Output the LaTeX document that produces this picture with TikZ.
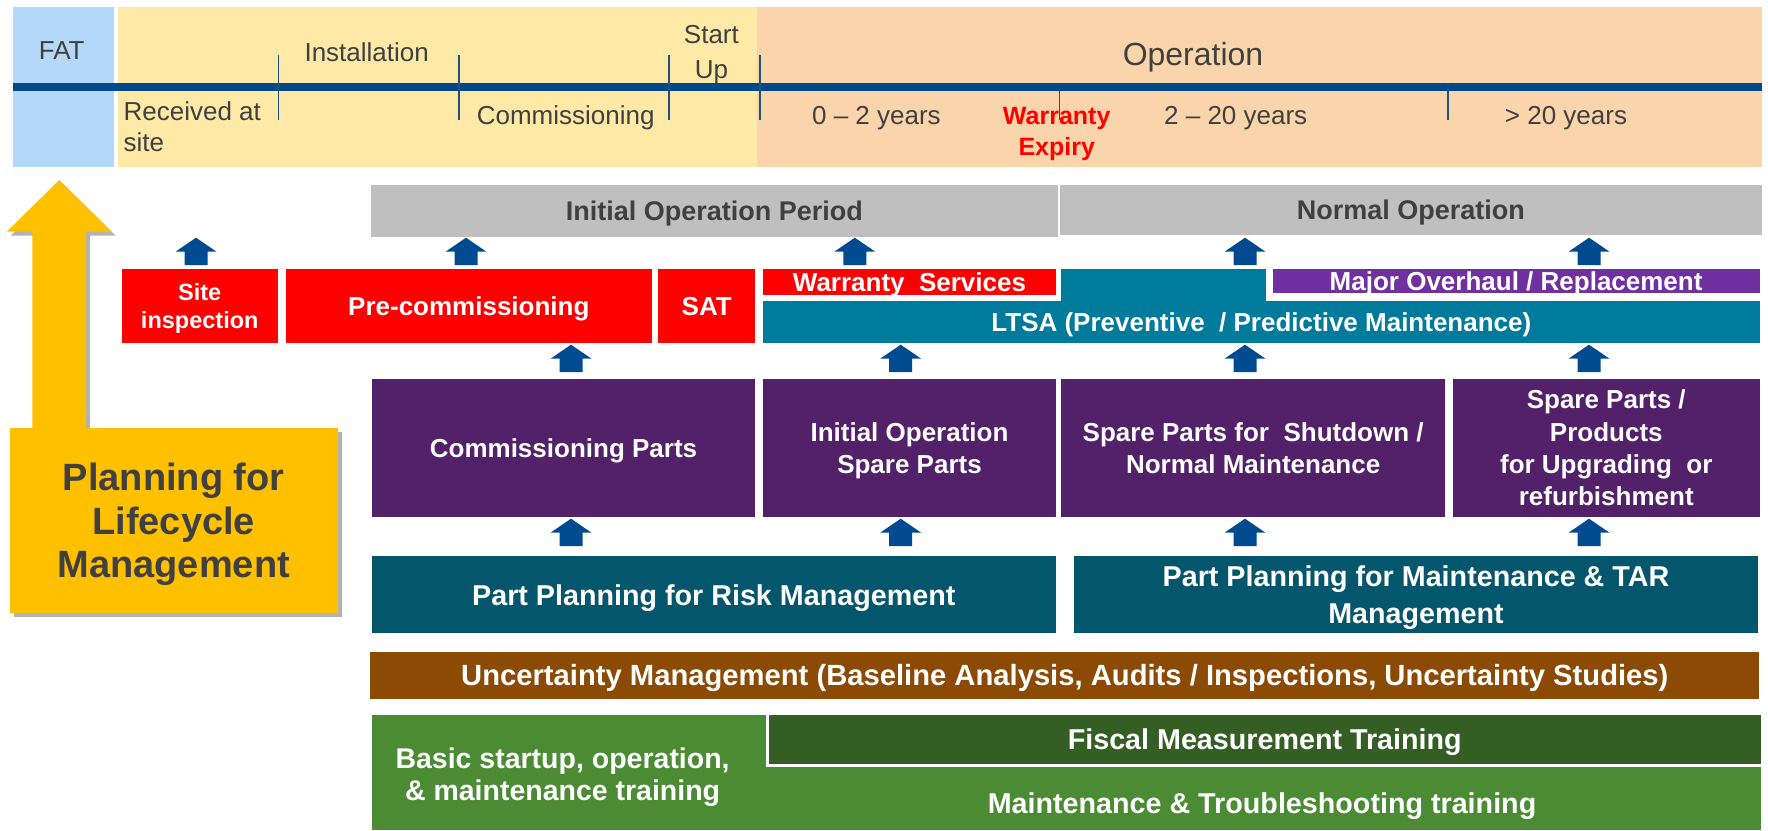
\documentclass[tikz,border=0pt]{standalone}
\usepackage{fontspec}
\setmainfont{Liberation Sans}
\usetikzlibrary{shadows}
\definecolor{fatblue}{HTML}{B4D9F8}
\definecolor{lightyel}{HTML}{FEE9A7}
\definecolor{peach}{HTML}{FAD4AA}
\definecolor{lineblue}{HTML}{004A8C}
\definecolor{tickblue}{HTML}{1F5080}
\definecolor{txtgray}{HTML}{404040}
\definecolor{barGray}{HTML}{BFBFBF}
\definecolor{arrblue}{HTML}{004A8F}
\definecolor{ltsa}{HTML}{017B9C}
\definecolor{majpurp}{HTML}{7030A0}
\definecolor{dpurp}{HTML}{53206A}
\definecolor{dteal}{HTML}{03566B}
\definecolor{brownbar}{HTML}{8B4B05}
\definecolor{lgreen}{HTML}{4A8B34}
\definecolor{dgreen}{HTML}{345E24}
\definecolor{gold}{HTML}{FFC000}
% box node from corner coordinates: style, name, x1, y1, x2, y2, text
\newcommand{\bx}[7]{%
  \pgfmathsetmacro{\bxw}{#5-#3}%
  \pgfmathsetmacro{\bxh}{#6-#4}%
  \pgfmathsetmacro{\bxcx}{(#3+#5)/2}%
  \pgfmathsetmacro{\bxcy}{(#4+#6)/2}%
  \node[#1, minimum width=\bxw pt, minimum height=\bxh pt] (#2) at (\bxcx,\bxcy) {#7};}
\begin{document}
\begin{tikzpicture}[x=1pt,y=-1pt,
  lbl/.style={text=txtgray, font=\fontsize{26}{31.7}\selectfont, inner sep=0pt, align=center, text depth=0pt},
  blk/.style={inner sep=0pt, outer sep=0pt, text=white, align=center, text depth=0pt, font=\bfseries\fontsize{26}{32.3}\selectfont},
  bigblk/.style={blk, font=\bfseries\fontsize{28.7}{36.7}\selectfont},
  graybar/.style={blk, fill=barGray, text=txtgray, font=\bfseries\fontsize{27}{32}\selectfont},
  tick/.style={draw=tickblue, line width=1.6pt},
  shad/.style={drop shadow={shadow xshift=4pt, shadow yshift=-4pt, opacity=0.3, fill=black}},
  uparrow/.pic={\fill[arrblue] (-11.5,0) -- (-11.5,-13.3) -- (-20.5,-13.3) -- (0,-27.3) -- (20.5,-13.3) -- (11.5,-13.3) -- (11.5,0) -- cycle;}
]
\useasboundingbox (0,0) rectangle (1768,830);

% ---------- timeline band ----------
\fill[fatblue] (13.4,6.7) rectangle (114.4,166.7);
\fill[lightyel] (118,6.7) rectangle (757,166.7);
\fill[peach] (757,6.7) rectangle (1761.6,166.7);
\draw[lineblue, line width=7.3pt] (13.4,87) -- (1761.6,87);

\node[lbl] (fat) at (61.7,50.7) {FAT};
\node[lbl] (inst) at (366.7,51.6) {Installation};
\node[lbl, font=\fontsize{26}{35}\selectfont] (start) at (711.4,52) {Start\\Up};
\node[lbl, align=left, anchor=west] (recv) at (123.4,126.5) {Received at\\site};
\node[lbl] (comm) at (565.7,115) {Commissioning};
\node[lbl, font=\fontsize{32}{36}\selectfont] (oper) at (1193,54) {Operation};
\node[lbl] (y02) at (876.4,115) {0 -- 2 years};
\node[lbl, text=red, font=\bfseries\fontsize{25}{31.7}\selectfont] (wexp) at (1056.7,131.5) {Warranty\\Expiry};
\node[lbl] (y220) at (1235.7,115) {2 -- 20 years};
\node[lbl] (y20) at (1566,115) {> 20 years};

\foreach \tx in {278.6,458.7,669,759.7} \draw[tick] (\tx,55) -- (\tx,120);
\foreach \tx in {1059.3,1448} \draw[tick] (\tx,87) -- (\tx,120);

% ---------- planning arrow and box ----------
\fill[gold, shad] (32.3,440) -- (32.3,231.7) -- (6.7,231.7) -- (59.3,180) -- (111.7,231.7) -- (86,231.7) -- (86,440) -- cycle;
\bx{blk, fill=gold, shad, text=txtgray, font=\bfseries\fontsize{38}{43.5}\selectfont}{plan}{10}{427.7}{337.5}{613.3}{Planning for\\Lifecycle\\Management}

% ---------- gray period bars ----------
\bx{graybar}{iop}{370.6}{185}{1058}{236.7}{Initial Operation Period}
\bx{graybar}{nop}{1060}{185}{1761.6}{235}{Normal Operation}

% ---------- red / teal / purple row ----------
\bx{blk, fill=red, font=\bfseries\fontsize{23.5}{28.3}\selectfont}{site}{121.9}{269}{277.6}{343.3}{Site\\inspection}
\bx{blk, fill=red}{prec}{286}{269}{651.7}{343.3}{Pre-commissioning}
\bx{blk, fill=red}{sat}{658.2}{269}{755.2}{343.3}{SAT}
\bx{blk, fill=red}{warr}{763}{269}{1056}{295}{Warranty\ \ Services}
\fill[ltsa] (1061.3,269) rectangle (1266,301.5);
\bx{blk, fill=ltsa}{ltsa}{763}{301}{1759.7}{343.3}{LTSA (Preventive\ \ / Predictive Maintenance)}
\bx{blk, fill=majpurp}{major}{1272.5}{269}{1759.7}{293.3}{Major Overhaul\ / Replacement}

% ---------- purple parts row ----------
\bx{blk, fill=dpurp}{cparts}{372}{379.3}{755}{516.7}{Commissioning Parts}
\bx{blk, fill=dpurp}{iosp}{763}{379.3}{1056}{516.7}{Initial Operation\\Spare Parts}
\bx{blk, fill=dpurp}{spsn}{1061.3}{379.3}{1445}{516.7}{Spare Parts for\ \ Shutdown /\\Normal Maintenance}
\bx{blk, fill=dpurp}{spup}{1452.8}{379.3}{1759.7}{516.7}{Spare Parts /\\Products\\for Upgrading\ \ or\\refurbishment}

% ---------- part planning row ----------
\bx{bigblk, fill=dteal}{pprm}{372}{556}{1055.5}{633.3}{Part Planning for Risk Management}
\bx{bigblk, fill=dteal}{ppmt}{1074.2}{556}{1757.7}{633.3}{Part Planning for Maintenance \& TAR\\Management}

% ---------- uncertainty ----------
\bx{bigblk, fill=brownbar, font=\bfseries\fontsize{29.2}{34}\selectfont}{unc}{370.3}{651.7}{1759.4}{699}{Uncertainty Management (Baseline Analysis, Audits / Inspections, Uncertainty Studies)}

% ---------- training ----------
\fill[lgreen] (372,715) rectangle (1761,830);
\bx{bigblk, fill=dgreen, draw=white, line width=2.5pt}{fiscal}{767.5}{713.5}{1762}{765.5}{Fiscal Measurement Training}
\node[bigblk, font=\bfseries\fontsize{28.5}{31.7}\selectfont] (basic) at (562.6,774) {Basic startup, operation,\\\& maintenance training};
\node[bigblk] (mtt) at (1262,803.3) {Maintenance \& Troubleshooting training};

% ---------- small up arrows ----------
\foreach \ax in {196,466,854.8,1245,1589} \pic at (\ax,265) {uparrow};
\foreach \ax in {571,900.7,1245,1589} \pic at (\ax,372) {uparrow};
\foreach \ax in {571,900.7,1245,1589} \pic at (\ax,546) {uparrow};
\end{tikzpicture}
\end{document}
